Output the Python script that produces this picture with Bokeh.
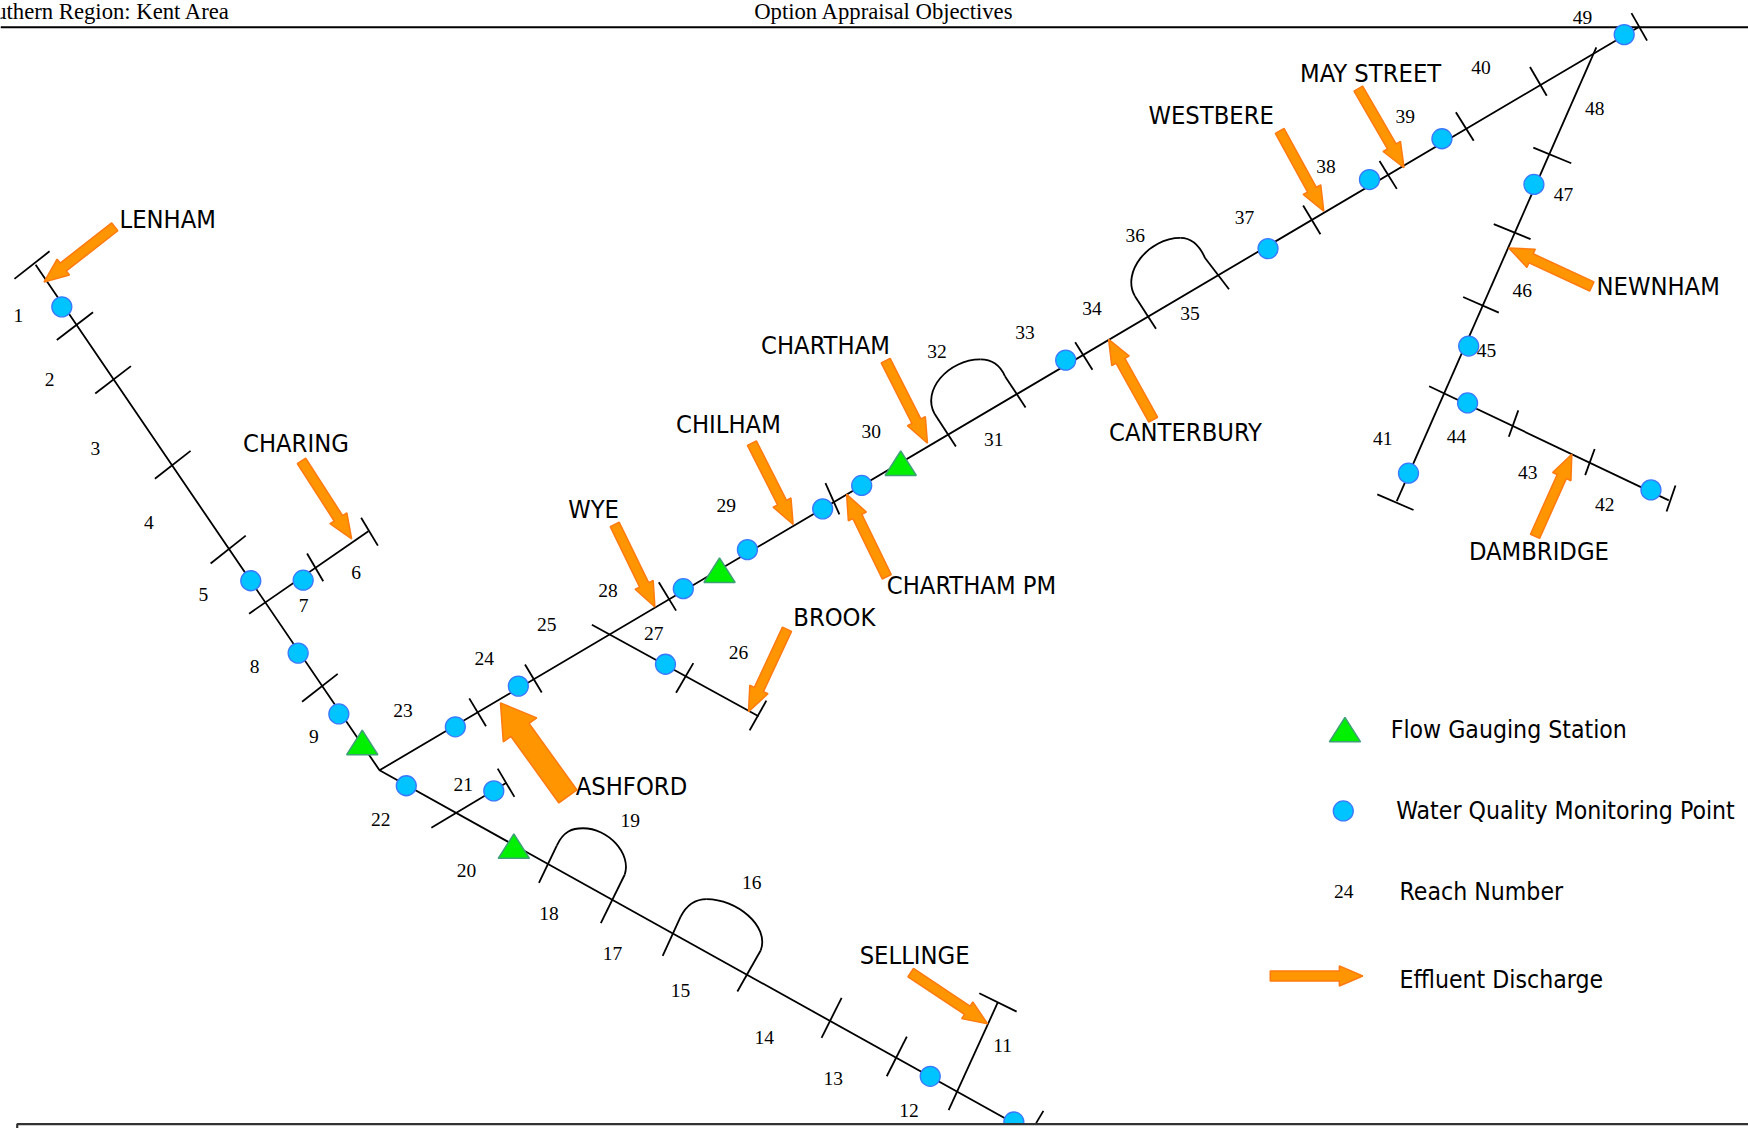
from bokeh.plotting import figure
from bokeh.embed import file_html
from bokeh.resources import INLINE
from bokeh.core.properties import value
import numpy as np

SRC_W = 1568.0
SCALE = 1748.0 / SRC_W
LABEL_FONT = "DejaVu Sans Condensed"
SERIF = "Liberation Serif"
ORANGE = "#ff9500"
ORANGE_EDGE = "#ff7a10"
BLUE = "#00c4ff"
BLUE_EDGE = "#3a78ff"
GREEN = "#00f000"
GREEN_EDGE = "#3f9f78"

# ---- river network (schematic coordinates) ----
rivers = [
    [(31.5, 237), (340, 690.5), (1470, 23.5)],
    [(340, 690.5), (925, 1016)],
    [(223, 550), (330, 476)],
    [(530.5, 560), (680, 642)],
    [(386.5, 742), (453.5, 702)],
    [(850.5, 995.3), (894.5, 899)],
    [(1252.5, 449), (1431.5, 42)],
    [(1281.5, 346), (1496.5, 448.4)],
]
ticks = [
    [(12.5, 249.7), (44, 225)], [(50.5, 304.5), (83, 279.7)], [(85, 352.6), (117, 328)],
    [(138.5, 429), (170.5, 404)], [(188.5, 505), (220, 480)], [(323.5, 464), (338.5, 489)],
    [(275, 496), (289.5, 521)], [(270.5, 629), (302.5, 604)], [(420.5, 626), (435.5, 651)],
    [(470.5, 595.7), (485.5, 620.8)], [(672, 654.7), (687, 628)], [(606, 621), (621.5, 594.4)],
    [(590.5, 521.8), (606, 547.3)], [(740, 433), (752.5, 461)], [(964, 306.5), (979.5, 331.3)],
    [(1168.5, 183.9), (1184, 209.7)], [(1237, 143.9), (1252.5, 169)], [(1305.5, 100.3), (1321.5, 125.8)],
    [(1372, 59.7), (1387, 85.5)], [(1463, 11.3), (1477, 36)], [(446, 689), (461, 714.4)],
    [(736.5, 930.5), (754.5, 894.7)], [(795, 965), (813, 929.5)], [(878, 890.5), (911.5, 907)],
    [(929, 1007), (935.5, 996)], [(1235, 443), (1267.5, 457)], [(1375, 132), (1409, 146)],
    [(1339.5, 200.6), (1372.5, 214)], [(1312, 266), (1344, 280)], [(1353, 391.3), (1361.5, 367.7)],
    [(1421.5, 425.8), (1430, 402.3)], [(1494.5, 458.4), (1502.5, 435)],
]
# channel loops: straight leg, two curved pieces (start, ctrl, ctrl, end), straight leg
loops = [
    {"leg0": [(857, 400), (838, 371)], "c1": [(838, 371), (826, 350), (850, 322), (879, 322)],
     "c2": [(879, 322), (891, 322), (897, 328), (901, 337)], "leg1": [(901, 337), (919.5, 365)]},
    {"leg0": [(1036.5, 294.5), (1017.5, 265)], "c1": [(1017.5, 265), (1005.5, 244), (1029.5, 213), (1058.5, 213)],
     "c2": [(1058.5, 213), (1070.5, 213), (1076.5, 222), (1080.5, 231)], "leg1": [(1080.5, 231), (1102, 259)]},
    {"leg0": [(483, 791.5), (499, 758)], "c1": [(499, 758), (505, 745), (513, 742.5), (522.5, 742.5)],
     "c2": [(522.5, 742.5), (545, 742.5), (566, 765), (560, 784)], "leg1": [(560, 784), (538.5, 827.6)]},
    {"leg0": [(594, 857), (610, 822)], "c1": [(610, 822), (616, 810), (624, 806), (633.5, 806)],
     "c2": [(633.5, 806), (660, 806), (690, 830), (682, 852)], "leg1": [(682, 852), (661, 889)]},
]

# ---- monitoring points and gauging stations ----
wq_x = [55, 224.5, 271.5, 267, 303.5, 364, 442.5, 408, 464.5, 596.5, 612.5, 670, 737.5, 772.5,
        955.5, 1137, 1228, 1293, 1456.5, 834, 909, 1263, 1317, 1375.5, 1316, 1480.5, 1204.5]
wq_y = [274.8, 520.5, 520, 585.4, 640, 704.4, 709, 651.5, 615, 595.4, 527.6, 492.6, 456, 435,
        322.6, 222.6, 160.6, 124, 30.6, 965, 1006, 424, 310, 165, 361, 439, 727]
gauge_x = [324.5, 645, 807.5, 460.5, 1206]
gauge_y = [665.5, 511, 415, 758.5, 654]

# ---- reach numbers ----
reach_text = ["1", "2", "3", "4", "5", "6", "7", "8", "9", "11", "12", "13", "14", "15", "16", "17",
              "18", "19", "20", "21", "22", "23", "24", "25", "26", "27", "28", "29", "30", "31", "32",
              "33", "34", "35", "36", "37", "38", "39", "40", "41", "42", "43", "44", "45", "46", "47",
              "48", "49", "24"]
reach_x = [16, 44, 85, 133, 182, 319, 272, 228, 281, 899, 815, 747, 685, 610, 674, 549,
           492, 565, 418, 415, 341, 361, 434, 490, 662, 586, 545, 651, 781, 891, 840,
           919, 979, 1067, 1018, 1116, 1189, 1260, 1328, 1240, 1439, 1370, 1306, 1333, 1365, 1402,
           1430, 1419, 1205]
reach_y = [283, 340, 402, 468, 533, 513, 543, 597, 660, 937, 996, 967, 930, 888, 791, 855,
           819, 736, 780, 703, 735, 637, 590, 560, 585, 568, 529, 453, 387, 394, 315,
           298, 276, 281, 211, 195, 149, 104, 60, 393, 452, 423, 391, 314, 260, 174,
           97, 15, 799]

# ---- discharge names ----
site_text = ["LENHAM", "CHARING", "CHILHAM", "CHARTHAM", "WYE", "BROOK", "CHARTHAM PM", "WESTBERE",
             "MAY STREET", "CANTERBURY", "NEWNHAM", "DAMBRIDGE", "ASHFORD", "SELLINGE"]
site_x = [150, 265, 653, 740, 532, 748, 871, 1086, 1229, 1063, 1487, 1380, 566, 820]
site_y = [196.5, 397.5, 380.5, 309.5, 456.5, 553.5, 524.5, 103.5, 65.5, 387.5, 256.5, 494.5, 705.5, 856.5]

# ---- discharge arrows: tail, tip, shaft width, head width, head length ----
arrow_tail = [(102.5, 203), (270, 413), (674, 397), (794, 323), (551, 470), (705.5, 564), (795, 517),
              (1147.5, 117), (1218, 79), (1034, 376), (1427.5, 256.5), (1376.5, 480.6), (509, 714),
              (816.5, 872), (1139, 875)]
arrow_tip = [(39, 252.6), (315, 483), (711, 470), (831.5, 397), (587, 544), (671, 638), (759, 443),
             (1187, 189), (1259, 150), (994, 304), (1353, 222), (1409.5, 407), (448.5, 630),
             (885.5, 918), (1222, 875)]
arrow_shaft = [9, 9, 9, 9, 9, 9, 9, 9, 9, 9, 9, 9, 20, 9, 9]
arrow_head = [18, 18, 18, 18, 18, 18, 18, 18, 18, 18, 18, 18, 37, 18, 18]
arrow_len = [22, 22, 22, 22, 22, 22, 22, 22, 22, 22, 22, 22, 30, 22, 21]

# ---- legend and header ----
legend_text = ["Flow Gauging Station", "Water Quality Monitoring Point", "Reach Number", "Effluent Discharge"]
legend_x = [1247, 1252, 1255, 1255]
legend_y = [654, 726.5, 799, 878.5]
header_left = "Southern Region: Kent Area"
header_mid = "Option Appraisal Objectives"

W, H = 1748, 1128
p = figure(width=W, height=H, x_range=(0, W / SCALE), y_range=(H / SCALE, 0),
           output_backend="svg", toolbar_location=None, min_border=0,
           x_axis_type=None, y_axis_type=None, outline_line_color=None,
           background_fill_color="white", border_fill_color="white")
p.grid.visible = False

LW = 1.8
# header rule
p.line([0, SRC_W], [24, 24], line_color="black", line_width=2.2)
for seg in rivers + ticks:
    p.line([q[0] for q in seg], [q[1] for q in seg], line_color="black", line_width=LW)
for lp in loops:
    for leg in (lp["leg0"], lp["leg1"]):
        p.line([q[0] for q in leg], [q[1] for q in leg], line_color="black", line_width=LW)
    for c in (lp["c1"], lp["c2"]):
        p.bezier(x0=c[0][0], y0=c[0][1], cx0=c[1][0], cy0=c[1][1], cx1=c[2][0], cy1=c[2][1],
                 x1=c[3][0], y1=c[3][1], line_color="black", line_width=LW)

# arrows
xs, ys = [], []
for t, h, sw, hw, hl in zip(arrow_tail, arrow_tip, arrow_shaft, arrow_head, arrow_len):
    t, h = np.array(t, float), np.array(h, float)
    d = (h - t) / np.linalg.norm(h - t)
    n = np.array([-d[1], d[0]])
    b = h - d * hl
    pts = [t + n * sw / 2, b + n * sw / 2, b + n * hw / 2, h, b - n * hw / 2, b - n * sw / 2, t - n * sw / 2]
    xs.append([float(q[0]) for q in pts])
    ys.append([float(q[1]) for q in pts])
p.patches(xs, ys, fill_color=ORANGE, line_color=ORANGE_EDGE, line_width=1.5)

tri_xs = [[gx - 14, gx, gx + 14] for gx in gauge_x]
tri_ys = [[gy + 11, gy - 11, gy + 11] for gy in gauge_y]
p.patches(tri_xs, tri_ys, fill_color=GREEN, line_color=GREEN_EDGE, line_width=1.5)
p.scatter(wq_x, wq_y, marker="circle", size=20, fill_color=BLUE, line_color=BLUE_EDGE, line_width=1.3)

# bottom frame covers what runs past it
p.quad(left=[15], right=[1700], top=[1008], bottom=[1100], fill_color="white",
       line_color="#333333", line_width=2.2)

p.text(reach_x, reach_y, text=reach_text, text_font=value(SERIF), text_font_size=value("19.5px"),
       text_align="center", text_baseline="middle", text_color="black")
p.text(site_x, site_y, text=site_text, text_font=value(LABEL_FONT), text_font_size=value("25.3px"),
       text_align="center", text_baseline="middle", text_color="black")
p.text(legend_x, legend_y, text=legend_text, text_font=value(LABEL_FONT), text_font_size=value("24.6px"),
       text_align="left", text_baseline="middle", text_color="black")
p.text([206], [9.5], text=[header_left], text_font=value(SERIF), text_font_size=value("22.7px"),
       text_align="right", text_baseline="middle", text_color="black")
p.text([792.5], [9.5], text=[header_mid], text_font=value(SERIF), text_font_size=value("22.7px"),
       text_align="center", text_baseline="middle", text_color="black")

open("out.html", "w").write(file_html(p, INLINE))
